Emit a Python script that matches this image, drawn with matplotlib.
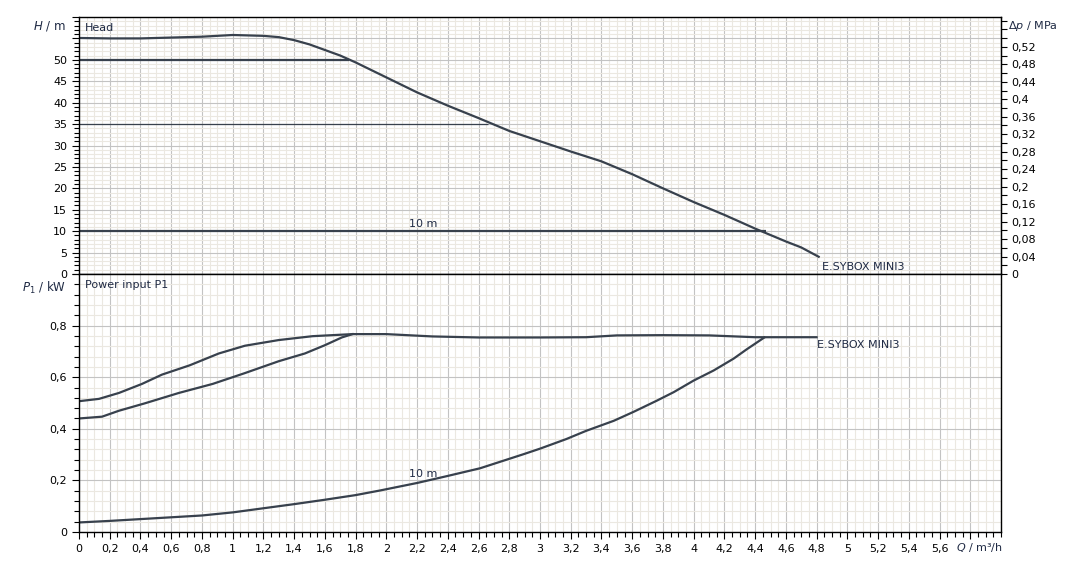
import matplotlib
matplotlib.use("Agg")
import matplotlib.pyplot as plt
import matplotlib.transforms as mtransforms
import numpy as np

# head curve H(Q)
q_head = [0, 0.2, 0.4, 0.6, 0.8, 1.0, 1.2, 1.3, 1.4, 1.5, 1.6, 1.7, 1.8, 2.0, 2.2, 2.4,
          2.6, 2.8, 3.0, 3.2, 3.4, 3.6, 3.8, 4.0, 4.2, 4.4, 4.6, 4.7, 4.82]
h_head = [55.1, 55.0, 55.0, 55.2, 55.4, 55.8, 55.6, 55.3, 54.6, 53.6, 52.3, 51.0, 49.4,
          45.9, 42.4, 39.3, 36.4, 33.4, 31.0, 28.6, 26.3, 23.3, 20.0, 16.8, 13.8, 10.6,
          7.6, 6.2, 3.9]

# constant pressure set points
set_heads = [50, 35, 10]
set_q_end = [1.76, 2.66, 4.47]
set_width = [1.6, 0.9, 1.6]

# power input curves
q_p_max = [0, 0.13, 0.26, 0.41, 0.54, 0.72, 0.91, 1.08, 1.3, 1.52, 1.78, 2.0, 2.3, 2.6,
           3.0, 3.3, 3.5, 3.8, 4.1, 4.4, 4.8]
p_max = [0.507, 0.516, 0.539, 0.574, 0.61, 0.646, 0.692, 0.722, 0.744, 0.759, 0.767,
         0.767, 0.758, 0.754, 0.754, 0.755, 0.762, 0.763, 0.762, 0.755, 0.755]

q_p_mid = [0, 0.15, 0.26, 0.43, 0.65, 0.87, 1.08, 1.3, 1.47, 1.6, 1.71, 1.78]
p_mid = [0.440, 0.447, 0.470, 0.499, 0.539, 0.574, 0.616, 0.662, 0.692, 0.724, 0.754, 0.767]

q_p_10 = [0, 0.2, 0.4, 0.6, 0.8, 1.0, 1.2, 1.4, 1.6, 1.8, 1.96, 2.2, 2.39, 2.61, 2.89,
          3.0, 3.17, 3.3, 3.48, 3.61, 3.76, 3.87, 4.0, 4.13, 4.26, 4.345, 4.46]
p_10 = [0.037, 0.043, 0.050, 0.057, 0.064, 0.076, 0.092, 0.108, 0.125, 0.143, 0.161,
        0.19, 0.216, 0.247, 0.301, 0.323, 0.36, 0.392, 0.431, 0.466, 0.509, 0.542,
        0.587, 0.626, 0.672, 0.708, 0.754]

x_ticks = np.arange(0, 5.61, 0.2)
curve_col = '#38414d'
text_col = '#1f2a44'

plt.rcParams['font.family'] = 'DejaVu Sans'
plt.rcParams['font.size'] = 8
plt.rcParams['mathtext.fontset'] = 'dejavusans'


def comma(v):
    s = ('%.2f' % v).rstrip('0').rstrip('.')
    return s.replace('.', ',')


def style_axes(ax):
    ax.set_xlim(0, 6)
    ax.set_axisbelow(True)
    ax.set_xticks(np.arange(0, 5.81, 0.2))
    ax.set_xticks(np.arange(0, 6.001, 0.05), minor=True)
    ax.grid(which='minor', color='#ebe8e1', lw=0.8)
    ax.grid(which='major', color='#c3c3c3', lw=0.8)
    ax.tick_params(which='major', direction='out', length=5, width=0.8, color='black')
    ax.tick_params(which='minor', direction='out', length=3.5, width=0.8, color='black')
    for s in ax.spines.values():
        s.set_color('black')
        s.set_linewidth(1.0)


fig = plt.figure(figsize=(10.81, 5.74), dpi=100)
ax1 = fig.add_axes([79 / 1081, 1 - 274 / 574, 922 / 1081, 257 / 574])
ax2 = fig.add_axes([79 / 1081, 1 - 532 / 574, 922 / 1081, 258 / 574])

# ---- top: head
style_axes(ax1)
ax1.set_ylim(0, 60)
ax1.set_yticks(np.arange(0, 60.1, 5))
ax1.set_yticks(np.arange(0, 60.1, 1), minor=True)
ax1.set_yticklabels([str(int(v)) if v <= 50 else '' for v in np.arange(0, 60.1, 5)])
ax1.tick_params(axis='x', which='both', length=0, labelbottom=False)

ax1.plot(q_head, h_head, color=curve_col, lw=1.6, solid_capstyle='butt')
for h, qe, w in zip(set_heads, set_q_end, set_width):
    ax1.plot([0, qe], [h, h], color=curve_col, lw=w, solid_capstyle='butt')

ax1.text(0.04, 57.4, 'Head', color=text_col, ha='left', va='center')
ax1.text(2.15, 10.4, '10 m', color=text_col, ha='left', va='bottom')
ax1.text(4.835, 1.6, 'E.SYBOX MINI3', color=text_col, ha='left', va='center')
tr1 = mtransforms.blended_transform_factory(ax1.transAxes, ax1.transData)
ax1.text(-0.014, 57.8, '$H$ / m', color=text_col, ha='right', va='center',
         fontsize=8.5, transform=tr1)

sec = ax1.secondary_yaxis('right', functions=(lambda h: h / 102.0, lambda p: p * 102.0))
dp_ticks = np.arange(0, 0.521, 0.04)
sec.set_yticks(dp_ticks)
sec.set_yticklabels([comma(v) for v in dp_ticks])
sec.set_yticks(np.arange(0, 0.59, 0.02), minor=True)
sec.tick_params(which='major', direction='out', length=4, width=0.8)
sec.tick_params(which='minor', direction='out', length=4, width=0.8)
ax1.text(1.008, 57.8, r'$\Delta p$ / MPa', color=text_col, ha='left', va='center',
         fontsize=8, transform=tr1)

# ---- bottom: power input
style_axes(ax2)
ax2.set_ylim(0, 1.0)
ax2.set_yticks(np.arange(0, 1.01, 0.2))
ax2.set_yticklabels([comma(v) if v < 0.9 else '' for v in np.arange(0, 1.01, 0.2)])
ax2.set_yticks(np.arange(0, 1.001, 0.04), minor=True)
ax2.set_xticklabels([comma(v) for v in x_ticks] + [''])
trx = mtransforms.blended_transform_factory(ax2.transData, ax2.transAxes)
ax2.text(5.86, -0.035, '$Q$ / m³/h', color=text_col, ha='center', va='top',
         fontsize=8, transform=trx)

ax2.plot(q_p_max, p_max, color=curve_col, lw=1.6)
ax2.plot(q_p_mid, p_mid, color=curve_col, lw=1.6)
ax2.plot(q_p_10, p_10, color=curve_col, lw=1.6)

ax2.text(0.04, 0.957, 'Power input P1', color=text_col, ha='left', va='center')
ax2.text(2.15, 0.223, '10 m', color=text_col, ha='left', va='center')
ax2.text(4.80, 0.723, 'E.SYBOX MINI3', color=text_col, ha='left', va='center')
tr2 = mtransforms.blended_transform_factory(ax2.transAxes, ax2.transData)
ax2.text(-0.014, 0.945, '$P_1$ / kW', color=text_col, ha='right', va='center',
         fontsize=8.5, transform=tr2)

fig.savefig('out.png', dpi=100)
